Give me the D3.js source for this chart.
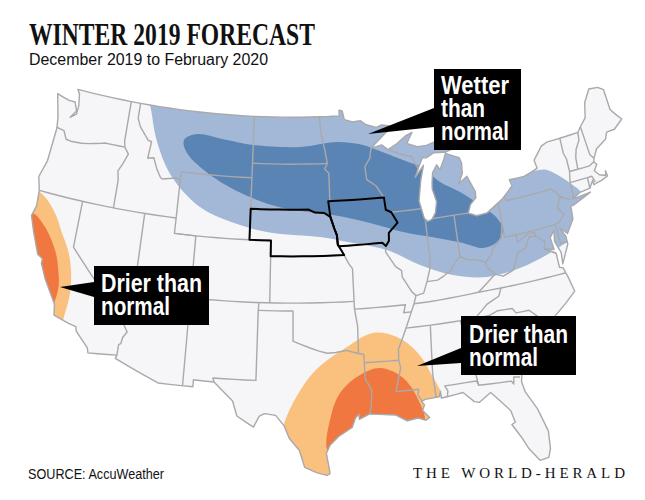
<!DOCTYPE html>
<html><head><meta charset="utf-8">
<script src="https://cdn.jsdelivr.net/npm/d3@7"></script>
<style>html,body{margin:0;padding:0;background:#fff}svg{display:block}</style>
</head><body><svg id="c" width="645" height="500"></svg>
<script>
const landOutline=[[-122.76,49],[-117.04,49],[-104.05,49],[-97.23,49],[-95.15,49],[-95.15,49.38],[-94.82,49.32],[-94.64,48.74],[-93.8,48.55],[-93,48.6],[-92.4,48.3],[-91.4,48.07],[-90.8,48.2],[-89.6,48],[-90.5,47.65],[-92.1,46.75],[-91,46.9],[-90.4,46.55],[-89.5,46.85],[-88.5,47.3],[-87.8,47.47],[-88.45,46.8],[-87.4,46.5],[-86.5,46.5],[-85,46.75],[-84.4,46.5],[-83.9,46],[-84.72,45.87],[-85.9,45.95],[-86.7,45.7],[-87.05,45.75],[-87.6,45.1],[-88,44.55],[-87.05,45.25],[-87.5,44.3],[-87.75,43.5],[-87.9,43],[-87.6,41.85],[-87.3,41.62],[-86.9,41.72],[-86.5,42.1],[-86.25,42.8],[-86.5,43.65],[-86.45,44],[-86.25,44.7],[-85.75,45.15],[-85.5,44.8],[-85,45.4],[-84.73,45.78],[-83.45,45.35],[-83.3,45],[-83.4,44.3],[-83.9,43.7],[-83,44.07],[-82.45,43],[-82.5,42.6],[-83.1,42.25],[-83.45,41.72],[-82.7,41.45],[-81.7,41.5],[-80.1,42.15],[-78.9,42.85],[-79.05,43.27],[-77.6,43.25],[-76.5,43.47],[-76.2,43.55],[-76.3,44.1],[-75.3,44.85],[-74.7,45],[-71.5,45],[-71.1,45.3],[-70.4,45.75],[-70,46.7],[-69.2,47.45],[-68.3,47.35],[-67.8,47.07],[-67.8,45.7],[-67.45,45.3],[-67,44.85],[-68,44.4],[-68.8,44.4],[-69.1,44],[-70.2,43.6],[-70.7,43.07],[-70.8,42.85],[-70.6,42.65],[-71,42.3],[-70.65,41.95],[-70.1,41.77],[-70,42.07],[-69.95,41.7],[-70.65,41.55],[-71.1,41.5],[-71.4,41.45],[-71.4,41.75],[-71.85,41.32],[-72.9,41.25],[-73.65,40.98],[-71.9,41.07],[-73.8,40.58],[-74,40.6],[-74,40.45],[-74.1,39.75],[-74.9,38.95],[-75.5,39.5],[-75.1,38.8],[-75.1,38.3],[-75.95,37.15],[-75.85,37.9],[-76.2,38.7],[-76,39.4],[-76.5,39],[-76.4,38.2],[-77.2,38.4],[-76.3,37.9],[-76.3,37],[-76,36.9],[-75.75,36.2],[-75.5,35.25],[-76.5,34.65],[-77.95,33.85],[-78.9,33.65],[-79.2,33.2],[-79.9,32.7],[-80.9,32.05],[-81.4,30.4],[-81.25,29.7],[-80.55,28.45],[-80.05,26.9],[-80.15,25.75],[-80.4,25.2],[-81.1,25.13],[-81.75,26],[-82.2,26.9],[-82.75,27.8],[-82.45,27.9],[-82.65,28.7],[-83.4,29.5],[-84,30.1],[-85,29.6],[-85.4,29.7],[-86.2,30.4],[-87.5,30.28],[-88,30.25],[-88,30.7],[-88.15,30.35],[-89.3,30.3],[-89.6,30.2],[-89.4,29.95],[-89.6,29.6],[-89.1,29.1],[-89.4,28.95],[-90,29.15],[-90.9,29.05],[-91.8,29.5],[-92.3,29.55],[-93.85,29.7],[-94.7,29.4],[-94.7,29.75],[-95,29.5],[-95.3,28.9],[-96.4,28.35],[-97.1,27.8],[-97.4,27.3],[-97.15,25.96],[-97.4,25.85],[-98.2,26.05],[-99.1,26.4],[-99.5,27.5],[-100.3,28.3],[-100.7,29.1],[-101.4,29.77],[-102.3,29.87],[-102.7,29.7],[-103.15,28.98],[-104.5,29.65],[-104.9,30.6],[-106.5,31.75],[-108.2,31.78],[-108.2,31.33],[-111.07,31.33],[-114.81,32.5],[-114.72,32.72],[-117.12,32.53],[-117.25,32.85],[-118.4,33.75],[-118.5,34.03],[-119.2,34.15],[-120.5,34.45],[-120.65,35.15],[-121.9,36.6],[-122.5,37.5],[-122.5,37.8],[-123,38],[-123.8,39.3],[-124.35,40.3],[-124.1,41],[-124.2,42],[-124.55,42.85],[-124.1,44],[-123.95,46.2],[-124.1,46.9],[-124.7,48.38],[-123.4,48.15],[-122.75,48.15],[-122.4,47.6],[-122.9,47.1],[-122.35,47.4],[-122.3,48],[-122.5,48.75]];
const stateBorders=[
[[-124,46.25],[-123.2,46.15],[-122.8,45.65],[-122.2,45.6],[-121.2,45.65],[-120.5,45.73],[-119.3,45.93],[-118.98,46],[-116.92,46]],
[[-117.04,49],[-117.04,46.4],[-116.92,46],[-116.46,45.6],[-116.85,44.9],[-117.2,44.4],[-117.03,43.8],[-117.03,42]],
[[-124.2,42],[-111.05,42]],
[[-120,42],[-120,39],[-114.63,35],[-114.57,34.8],[-114.14,34.3],[-114.45,33.9],[-114.53,33.5],[-114.7,33.4],[-114.72,32.72]],
[[-114.04,42],[-114.04,36.2],[-114.75,36.1],[-114.63,35]],
[[-116.05,49],[-116.05,48],[-115.7,47.5],[-114.7,46.7],[-114.35,46.65],[-114.5,45.55],[-113.9,45.65],[-113.45,44.95],[-113,44.45],[-112.8,44.37],[-111.5,44.55],[-111.05,44.48]],
[[-111.05,45],[-111.05,41],[-109.05,41],[-109.05,31.33]],
[[-111.05,45],[-104.05,45]],
[[-111.05,41],[-102.05,41],[-102.05,37]],
[[-104.05,49],[-104.05,41]],
[[-104.05,45.94],[-96.56,45.94]],
[[-104.05,43],[-98.5,43],[-97.9,42.8],[-97,42.75],[-96.45,42.49]],
[[-102.05,40],[-95.31,40]],
[[-114.04,37],[-94.62,37]],
[[-103,37],[-103.04,36.5],[-103.06,32],[-106.62,32],[-106.5,31.75]],
[[-103.04,36.5],[-100,36.5],[-100,34.56],[-99.5,34.4],[-98.5,34.1],[-97.8,33.9],[-97.1,33.75],[-96.4,33.78],[-95.5,33.88],[-94.48,33.64],[-94.43,35.4],[-94.62,36.5],[-94.62,37],[-94.61,39.1],[-94.9,39.4],[-95.31,40]],
[[-95.31,40],[-95.85,40.7],[-95.9,41.3],[-96.1,41.7],[-96.45,42.49],[-96.6,43.5]],
[[-96.45,43.5],[-96.45,45.3],[-96.85,45.6],[-96.56,45.94],[-96.8,46.9],[-97.15,48],[-97.23,49]],
[[-96.6,43.5],[-91.22,43.5]],
[[-95.77,40.58],[-91.73,40.61],[-91.42,40.38]],
[[-92.1,46.75],[-92.3,46.1],[-92.85,45.6],[-92.75,44.75],[-91.9,44.3],[-91.22,43.5],[-91.15,42.7],[-90.65,42.5],[-90.15,41.8],[-91.05,41.2],[-91.1,40.7],[-91.42,40.38],[-91.5,40],[-90.7,39],[-90.2,38.7],[-90.2,38.3],[-89.5,37.3],[-89.15,37],[-89.4,36.5],[-89.7,36],[-90.3,35],[-90.6,34.5],[-91.1,33.7],[-91.15,33],[-91.05,32.5],[-91.6,31],[-89.73,31],[-89.85,30.65],[-89.55,30.2]],
[[-90.65,42.5],[-87.8,42.5]],
[[-90.4,46.55],[-89.1,46.13],[-88.1,45.9],[-87.8,45.35],[-87.6,45.1]],
[[-87.53,41.72],[-87.53,39.35],[-87.65,38.6],[-88.05,37.8],[-88.45,37.1],[-89.15,37]],
[[-88.05,37.8],[-87.1,37.8],[-86.5,38],[-85.8,38.3],[-85.4,38.7],[-84.82,39.1],[-84.3,38.8],[-83.5,38.7],[-82.6,38.42],[-81.9,38.9],[-81.75,39.2],[-80.87,39.7],[-80.52,40.64],[-80.52,41.98]],
[[-86.8,41.76],[-84.8,41.76],[-83.45,41.72]],
[[-84.8,41.76],[-84.82,39.1]],
[[-79.76,42.25],[-79.76,42],[-75.35,42],[-75.05,41.75],[-74.7,41.36],[-73.9,41]],
[[-74.7,41.36],[-75.1,40.95],[-75.2,40.65],[-74.75,40.2],[-75.4,39.8],[-75.79,39.72],[-75.7,38.46],[-75.05,38.45]],
[[-80.52,40.64],[-80.52,39.72],[-75.79,39.72]],
[[-79.48,39.72],[-79.48,39.2],[-78.4,39.6],[-77.8,39.6],[-77.72,39.32],[-77.05,38.85],[-77.25,38.4],[-76.3,37.95]],
[[-77.72,39.32],[-78.35,39.4],[-78.85,38.75],[-79.65,38.55],[-80.3,37.55],[-81.3,37.3],[-81.97,37.54],[-82.6,38.1],[-82.6,38.42]],
[[-81.97,37.54],[-83.68,36.6]],
[[-75.87,36.55],[-81.68,36.59],[-83.68,36.6],[-88.07,36.5],[-89.4,36.5]],
[[-81.68,36.59],[-82,36.1],[-83.1,35.75],[-84.3,35]],
[[-84.3,35],[-83.1,35],[-82.3,35.2],[-81.05,35.15],[-80.8,34.82],[-79.67,34.8],[-78.55,33.86]],
[[-83.1,35],[-83.35,34.7],[-82.6,34],[-81.5,33],[-81,32]],
[[-90.3,35],[-84.3,35]],
[[-88.2,35],[-88.47,31.9],[-88.4,30.3]],
[[-85.6,35],[-85.18,32.85],[-85.05,32],[-84.86,30.7],[-82.2,30.57],[-82.05,30.36],[-81.95,30.8],[-81.45,30.72]],
[[-84.86,30.7],[-85,31],[-87.6,31],[-87.4,30.65],[-87.5,30.28]],
[[-94.04,33.02],[-91.15,33]],
[[-89.7,36],[-90.37,36],[-90.15,36.5],[-94.62,36.5]],
[[-94.48,33.64],[-94.04,33.55],[-94.04,32],[-93.55,31.2],[-93.7,30.1],[-93.85,29.7]],
[[-73.35,45],[-73.4,44],[-73.25,43.6],[-73.27,42.75],[-73.5,42.05],[-73.5,41.3],[-73.65,41]],
[[-73.27,42.75],[-72.46,42.73],[-71.3,42.7],[-70.8,42.87]],
[[-71.5,45],[-71.6,44.5],[-72.1,44],[-72.35,43.5],[-72.46,42.73]],
[[-71.1,45.3],[-70.98,43.4],[-70.7,43.07]],
[[-73.5,42.05],[-71.8,42.02],[-71.38,42.02],[-71.2,41.6]],
[[-71.8,42.02],[-71.85,41.32]]
];
const nebraskaOutline=[[-104.05,43],[-98.5,43],[-97.9,42.8],[-97,42.75],[-96.45,42.49],[-96.1,41.7],[-95.9,41.3],[-95.85,40.7],[-95.31,40],[-102.05,40],[-102.05,41],[-104.05,41]];
const iowaOutline=[[-96.6,43.5],[-91.22,43.5],[-91.15,42.7],[-90.65,42.5],[-90.15,41.8],[-91.05,41.2],[-91.1,40.7],[-91.42,40.38],[-91.73,40.61],[-95.77,40.58],[-95.85,40.7],[-95.9,41.3],[-96.1,41.7],[-96.45,42.49]];
// temp pixels
const pxWet=[[150,80],[152,115],[158,145],[172,177],[200,207],[240,225],[273,233],[320,237],[353,243],[387,250],[420,265],[453,275],[487,277],[520,268],[550,253],[580,232],[610,200],[585,195],[577,188],[547,170],[530,170],[505,150],[480,120],[430,85],[300,70],[200,70]];
const pxWetter=[[184,140],[197,134],[227,140],[253,145],[300,147],[337,142],[363,145],[377,150],[403,160],[423,168],[440,182],[460,192],[480,205],[497,218],[503,230],[497,242],[483,248],[463,243],[437,238],[403,232],[370,223],[333,215],[283,208],[250,197],[213,177],[187,153]];
const pxDryW=[[33,188],[45,197],[55,213],[62,233],[68,250],[71,270],[70,293],[65,313],[60,325],[30,330],[10,280],[5,220],[15,185]];
const pxDrierW=[[25,213],[33,213],[45,227],[55,250],[58,267],[58,290],[47,313],[25,300],[10,270],[8,230]];
const pxDryS=[[373,333],[347,347],[313,373],[285,421],[280,460],[303,495],[345,495],[400,460],[437,413],[442,397],[433,377],[417,352],[397,337]];
const pxDrierS=[[380,368],[360,375],[340,393],[330,420],[327,450],[340,470],[403,450],[425,425],[417,397],[402,377]];
const proj=d3.geoConicEqualArea().parallels([29.5,45.5]).rotate([100,0]).center([0,0]).scale(1).translate([0,0]);
const sx=d3.scaleLinear().domain([0,1]).range([293,1116]);
const sy=d3.scaleLinear().domain([0,1]).range([848.5,1733.5]);
const pt=p=>{const q=proj(p);return [sx(q[0]),sy(q[1])];};
const densify=(l,closed)=>{const a=closed?l.concat([l[0]]):l,o=[];for(let i=0;i<a.length-1;i++){const n=Math.max(1,Math.ceil(Math.abs(a[i+1][0]-a[i][0])));for(let k=0;k<n;k++)o.push([a[i][0]+(a[i+1][0]-a[i][0])*k/n,a[i][1]+(a[i+1][1]-a[i][1])*k/n]);}o.push(a[a.length-1]);return o.map(pt);};
const line=d3.line(),closed=d3.line().curve(d3.curveLinearClosed),blob=d3.line().curve(d3.curveCatmullRomClosed.alpha(0.5));
const svg=d3.select('#c');
svg.append('rect').attr('width',645).attr('height',500).attr('fill','#fff');
const landD=closed(densify(landOutline,true));
svg.append('clipPath').attr('id','land').append('path').attr('d',landD);
svg.append('path').attr('d',landD).attr('fill','#f6f6f8');
const z=svg.append('g').attr('clip-path','url(#land)');
[[pxWet,'#a3b8d6'],[pxWetter,'#5a84b3'],[pxDryW,'#f9c07e'],[pxDrierW,'#f0773f'],[pxDryS,'#f9c07e'],[pxDrierS,'#f0773f']].forEach(([d,c])=>z.append('path').attr('d',blob(d)).attr('fill',c));
const g=svg.append('g').attr('fill','none').attr('stroke','#a9a9ac').attr('stroke-width',1.4).attr('stroke-linejoin','round');
stateBorders.forEach(b=>g.append('path').attr('d',line(densify(b))));
g.append('path').attr('d',landD);
[nebraskaOutline,iowaOutline].forEach(s=>svg.append('path').attr('d',closed(densify(s,true))).attr('fill','none').attr('stroke','#000').attr('stroke-width',2).attr('stroke-linejoin','round'));
const call=(x,y,w,h,tri,lines)=>{svg.append('rect').attr('x',x).attr('y',y).attr('width',w).attr('height',h).attr('fill','#000');svg.append('path').attr('d',closed(tri)).attr('fill','#000');
lines.forEach(l=>svg.append('text').attr('x',l[1]).attr('y',l[2]).text(l[0]).attr('fill','#fff').attr('font-family','Liberation Sans').attr('font-weight','bold').attr('font-size',25).attr('textLength',l[3]).attr('lengthAdjust','spacingAndGlyphs'));};
call(434,69,87,81,[[368,134],[434,108],[434,127]],[['Wetter',441,94,68],['than',441,117,44],['normal',441,140,68]]);
call(94,266,115,59,[[60,287],[94,282],[94,297]],[['Drier than',101,292,101],['normal',101,315,69]]);
call(461,316,115,59,[[417,366],[461,348],[461,363]],[['Drier than',469,343,99],['normal',469,366,69]]);
const T=(s,x,y,f,sz,w,len)=>svg.append('text').attr('x',x).attr('y',y).text(s).attr('font-family',f).attr('font-size',sz).attr('font-weight',w).attr('textLength',len).attr('lengthAdjust','spacingAndGlyphs').attr('fill','#111');
T('WINTER 2019 FORECAST',29,45,'Liberation Sans Narrow',31,'bold',286);
T('December 2019 to February 2020',29,65,'Liberation Sans',16,'normal',239);
T('SOURCE: AccuWeather',28,479,'Liberation Sans',14,'normal',136);
svg.append('text').attr('x',413).attr('y',478).text('THE WORLD-HERALD').attr('font-family','Liberation Serif').attr('font-size',15).attr('textLength',212).attr('fill','#111');
</script></body></html>
